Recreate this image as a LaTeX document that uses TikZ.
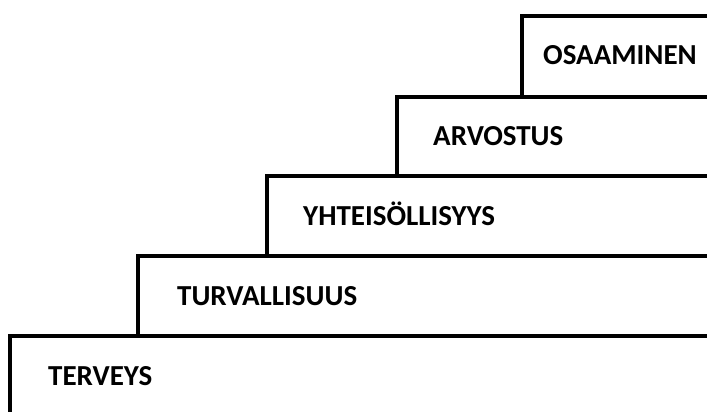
\documentclass[tikz,border=0pt]{standalone}
\usepackage{fontspec}
\setmainfont{Carlito}
\begin{document}
\begin{tikzpicture}[x=1pt,y=-1pt,
  stairline/.style={line width=4.8pt,line cap=rect},
  steplabel/.style={anchor=base west,inner sep=0pt,font=\fontsize{29}{33}\selectfont\bfseries}]
\useasboundingbox (0,0) rectangle (707,412);
% step corners
\coordinate (c1) at (10,336);
\coordinate (c2) at (138,256);
\coordinate (c3) at (267,176);
\coordinate (c4) at (397,97);
\coordinate (c5) at (522,16);
% steps: riser down from the corner, tread right to the edge
\draw[stairline] (10,412) -- (c1) -- (707,336);
\draw[stairline] (c2 |- c1) -- (c2) -- (707,256);
\draw[stairline] (c3 |- c2) -- (c3) -- (707,176);
\draw[stairline] (c4 |- c3) -- (c4) -- (707,97);
\draw[stairline] (c5 |- c4) -- (c5) -- (707,16);
% labels
\node[steplabel] (t1) at (48,385) {TERVEYS};
\node[steplabel] (t2) at (177,305) {TURVALLISUUS};
\node[steplabel] (t3) at (303,225) {YHTEISÖLLISYYS};
\node[steplabel] (t4) at (433,145) {ARVOSTUS};
\node[steplabel] (t5) at (543,65) {OSAAMINEN};
\end{tikzpicture}
\end{document}
